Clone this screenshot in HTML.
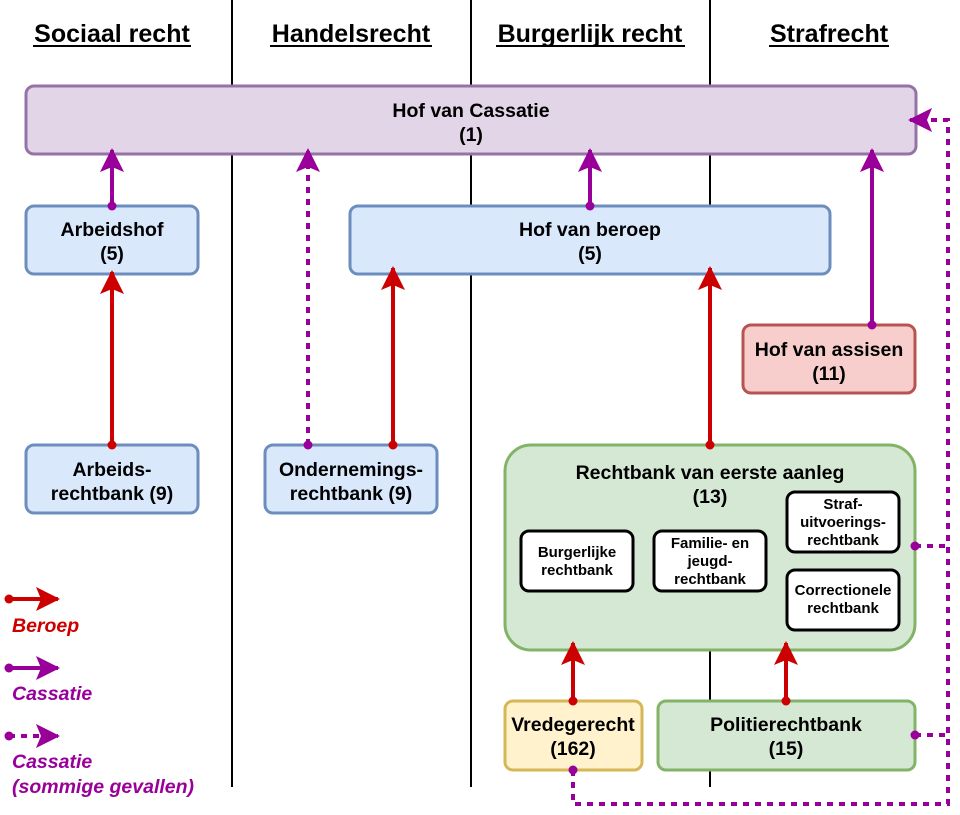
<!DOCTYPE html>
<html><head><meta charset="utf-8"><style>
html,body{margin:0;padding:0;background:#fff;}
svg{display:block;}
text{font-family:"Liberation Sans",Arial,sans-serif;font-weight:bold;fill:#000;}
</style></head><body>
<svg width="960" height="815" viewBox="0 0 960 815" xmlns="http://www.w3.org/2000/svg">
<defs>
<marker id="ar" viewBox="0 0 24 24" refX="22" refY="12" markerWidth="24" markerHeight="24" markerUnits="userSpaceOnUse" orient="auto"><path d="M0,0 L24,12 L0,24 L5,12 Z" fill="#cc0000"/></marker>
<marker id="ap" viewBox="0 0 24 24" refX="22" refY="12" markerWidth="24" markerHeight="24" markerUnits="userSpaceOnUse" orient="auto"><path d="M0,0 L24,12 L0,24 L5,12 Z" fill="#990099"/></marker>
</defs>
<g stroke="#000" stroke-width="2">
<line x1="232" y1="0" x2="232" y2="787"/>
<line x1="471" y1="0" x2="471" y2="787"/>
<line x1="710" y1="0" x2="710" y2="787"/>
</g>
<g font-size="25" text-anchor="middle">
<text x="112" y="42">Sociaal recht</text>
<text x="351" y="42">Handelsrecht</text>
<text x="590" y="42">Burgerlijk recht</text>
<text x="829" y="42">Strafrecht</text>
</g>
<g stroke="#000" stroke-width="2">
<line x1="33" y1="46" x2="191" y2="46"/>
<line x1="270" y1="46" x2="432" y2="46"/>
<line x1="496" y1="46" x2="685" y2="46"/>
<line x1="769" y1="46" x2="889" y2="46"/>
</g>
<rect x="26" y="86" width="890" height="68" rx="8" fill="#e1d5e7" stroke="#9673a6" stroke-width="3"/>
<rect x="26" y="206" width="172" height="68" rx="8" fill="#dae8fc" stroke="#6c8ebf" stroke-width="3"/>
<rect x="350" y="206" width="480" height="68" rx="8" fill="#dae8fc" stroke="#6c8ebf" stroke-width="3"/>
<rect x="743" y="325" width="172" height="68" rx="8" fill="#f8cecc" stroke="#b85450" stroke-width="3"/>
<rect x="26" y="445" width="172" height="68" rx="8" fill="#dae8fc" stroke="#6c8ebf" stroke-width="3"/>
<rect x="265" y="445" width="172" height="68" rx="8" fill="#dae8fc" stroke="#6c8ebf" stroke-width="3"/>
<rect x="505" y="445" width="410" height="205" rx="26" fill="#d5e8d4" stroke="#82b366" stroke-width="3"/>
<rect x="505" y="701" width="137" height="69" rx="8" fill="#fff2cc" stroke="#d6b656" stroke-width="3"/>
<rect x="658" y="701" width="257" height="69" rx="8" fill="#d5e8d4" stroke="#82b366" stroke-width="3"/>
<g fill="#fff" stroke="#000" stroke-width="3">
<rect x="521" y="531" width="112" height="60" rx="8"/>
<rect x="654" y="531" width="112" height="60" rx="8"/>
<rect x="787" y="492" width="112" height="60" rx="8"/>
<rect x="787" y="570" width="112" height="60" rx="8"/>
</g>
<g font-size="19.5" text-anchor="middle">
<text x="471" y="117">Hof van Cassatie</text><text x="471" y="141">(1)</text>
<text x="112" y="236">Arbeidshof</text><text x="112" y="260">(5)</text>
<text x="590" y="236">Hof van beroep</text><text x="590" y="260">(5)</text>
<text x="829" y="356">Hof van assisen</text><text x="829" y="380">(11)</text>
<text x="112" y="476">Arbeids-</text><text x="112" y="500">rechtbank (9)</text>
<text x="351" y="476">Ondernemings-</text><text x="351" y="500">rechtbank (9)</text>
<text x="710" y="479">Rechtbank van eerste aanleg</text><text x="710" y="503">(13)</text>
<text x="573" y="731">Vredegerecht</text><text x="573" y="755">(162)</text>
<text x="786" y="731">Politierechtbank</text><text x="786" y="755">(15)</text>
</g>
<g font-size="15" text-anchor="middle">
<text x="577" y="557">Burgerlijke</text><text x="577" y="575">rechtbank</text>
<text x="710" y="548">Familie- en</text><text x="710" y="566">jeugd-</text><text x="710" y="584">rechtbank</text>
<text x="843" y="509">Straf-</text><text x="843" y="527">uitvoerings-</text><text x="843" y="545">rechtbank</text>
<text x="843" y="595">Correctionele</text><text x="843" y="613">rechtbank</text>
</g>
<g stroke-width="4" fill="none">
<line x1="112" y1="206" x2="112" y2="150" stroke="#990099" marker-end="url(#ap)"/>
<line x1="590" y1="206" x2="590" y2="150" stroke="#990099" marker-end="url(#ap)"/>
<line x1="872" y1="325" x2="872" y2="150" stroke="#990099" marker-end="url(#ap)"/>
<line x1="308" y1="445" x2="308" y2="150" stroke="#990099" stroke-dasharray="6,6" marker-end="url(#ap)"/>
<line x1="112" y1="445" x2="112" y2="272" stroke="#cc0000" marker-end="url(#ar)"/>
<line x1="393" y1="445" x2="393" y2="268" stroke="#cc0000" marker-end="url(#ar)"/>
<line x1="710" y1="445" x2="710" y2="268" stroke="#cc0000" marker-end="url(#ar)"/>
<line x1="573" y1="701" x2="573" y2="643" stroke="#cc0000" marker-end="url(#ar)"/>
<line x1="786" y1="701" x2="786" y2="643" stroke="#cc0000" marker-end="url(#ar)"/>
<path d="M915,546 H948 M915,735 H948 M573,770 V804 H948 V120 H910" stroke="#990099" stroke-dasharray="6,6" marker-end="url(#ap)"/>
</g>
<g fill="#990099">
<circle cx="112" cy="206" r="4.5"/><circle cx="590" cy="206" r="4.5"/><circle cx="872" cy="325" r="4.5"/>
<circle cx="308" cy="445" r="4.5"/><circle cx="915" cy="546" r="4.5"/><circle cx="915" cy="735" r="4.5"/><circle cx="573" cy="770" r="4.5"/>
</g>
<g fill="#cc0000">
<circle cx="112" cy="445" r="4.5"/><circle cx="393" cy="445" r="4.5"/><circle cx="710" cy="445" r="4.5"/>
<circle cx="573" cy="701" r="4.5"/><circle cx="786" cy="701" r="4.5"/>
</g>
<g stroke-width="4" fill="none">
<line x1="9" y1="599" x2="58" y2="599" stroke="#cc0000" marker-end="url(#ar)"/>
<line x1="9" y1="668" x2="58" y2="668" stroke="#990099" marker-end="url(#ap)"/>
<line x1="9" y1="736" x2="58" y2="736" stroke="#990099" stroke-dasharray="6,6" marker-end="url(#ap)"/>
</g>
<circle cx="9" cy="599" r="4.5" fill="#cc0000"/>
<circle cx="9" cy="668" r="4.5" fill="#990099"/>
<circle cx="9" cy="736" r="4.5" fill="#990099"/>
<g font-size="19.5" font-style="italic">
<text x="12" y="632" style="fill:#cc0000">Beroep</text>
<text x="12" y="700" style="fill:#990099">Cassatie</text>
<text x="12" y="768" style="fill:#990099">Cassatie</text>
<text x="12" y="793" style="fill:#990099">(sommige gevallen)</text>
</g>
</svg>
</body></html>
